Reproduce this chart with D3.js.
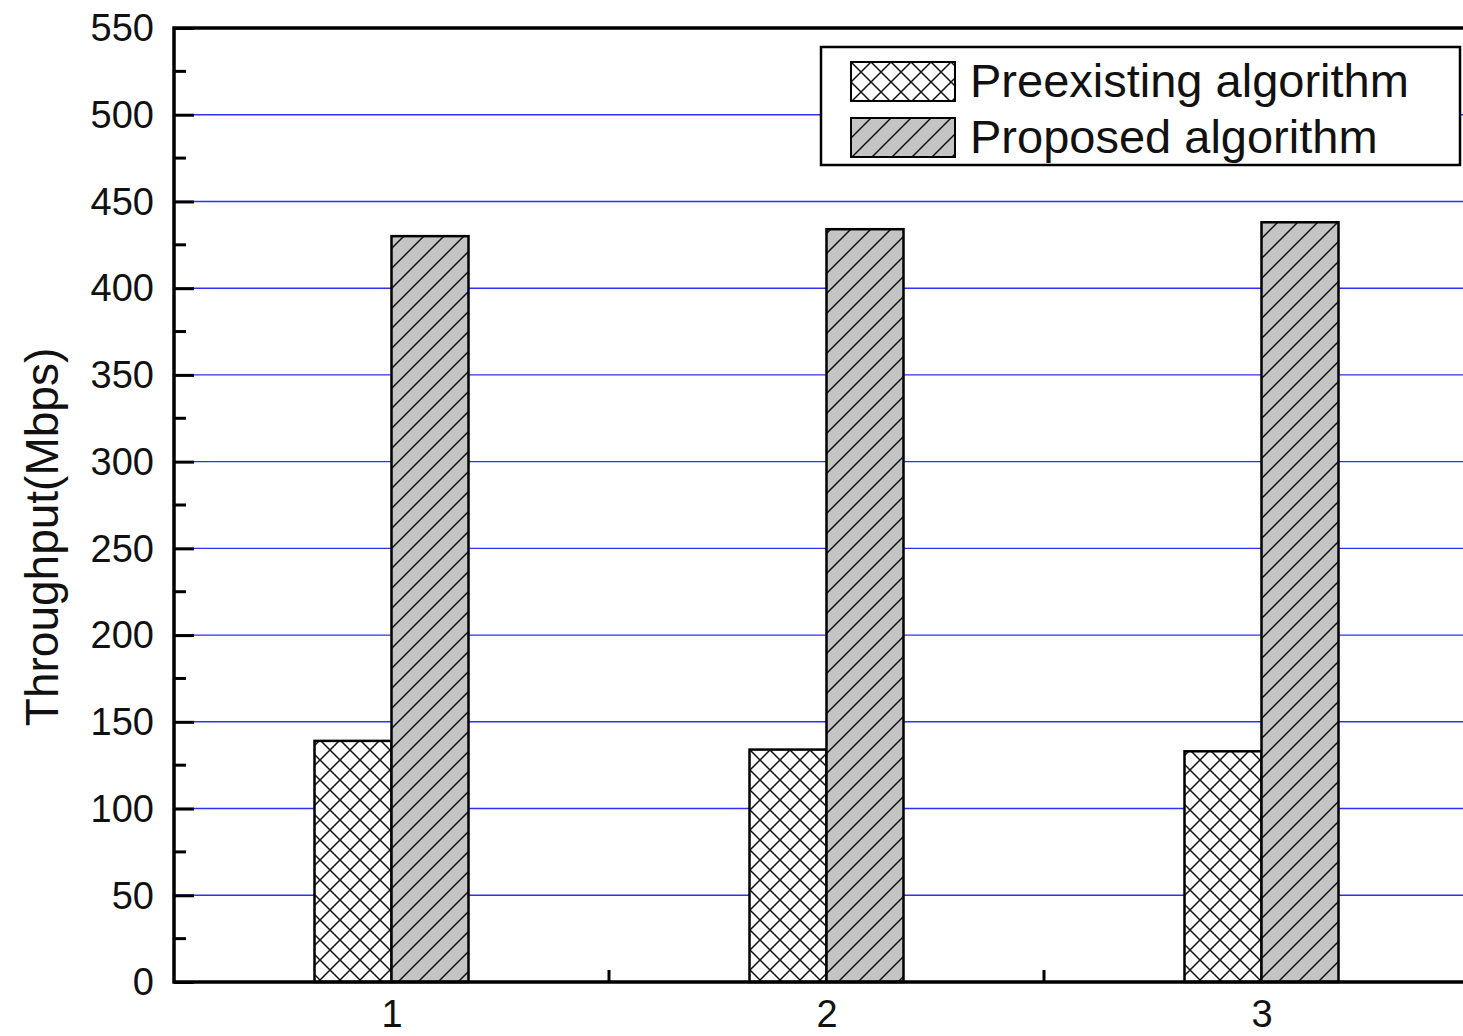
<!DOCTYPE html>
<html>
<head>
<meta charset="utf-8">
<script src="https://cdn.jsdelivr.net/npm/d3@7"></script>
<style>
  body { margin: 0; background: #fff; }
  svg { display: block; font-family: "Liberation Sans", Arial, sans-serif; }
</style>
</head>
<body>
<div id="chart"></div>
<script>
var categories = [1, 2, 3];
var seriesNames = ['Preexisting algorithm', 'Proposed algorithm'];
var preexisting = [139, 134, 133];
var proposed = [430, 434, 438];
var yTicks = [0, 50, 100, 150, 200, 250, 300, 350, 400, 450, 500, 550];

var W = 1463, H = 1036;
var plotLeft = 174, plotTop = 28, plotBottom = 982;
var catStep = 435;

var svg = d3.select('#chart').append('svg')
  .attr('width', W)
  .attr('height', H);

var defs = svg.append('defs');

// crosshatch for the preexisting bars
var cs = 20;
var cross = defs.append('pattern')
  .attr('id', 'cross')
  .attr('patternUnits', 'userSpaceOnUse')
  .attr('width', cs).attr('height', cs);
cross.append('rect').attr('width', cs).attr('height', cs).style('fill', '#fff');
cross.append('path')
  .attr('d', 'M0,0L' + cs + ',' + cs + 'M0,' + cs + 'L' + cs + ',0')
  .style('stroke', '#111').style('stroke-width', 1.5);

// diagonal for the proposed bars
var ds = 20;
var diag = defs.append('pattern')
  .attr('id', 'diag')
  .attr('patternUnits', 'userSpaceOnUse')
  .attr('width', ds).attr('height', ds);
diag.append('rect').attr('width', ds).attr('height', ds).style('fill', '#c4c4c4');
diag.append('path')
  .attr('d', 'M0,' + ds + 'L' + ds + ',0M-4,4L4,-4M' + (ds - 4) + ',' + (ds + 4) + 'L' + (ds + 4) + ',' + (ds - 4))
  .style('stroke', '#111').style('stroke-width', 1.5);

var x = d3.scaleLinear()
  .domain([0.5, 3.5])
  .range([plotLeft, plotLeft + 3 * catStep]);

var y = d3.scaleLinear()
  .domain([0, 550])
  .range([plotBottom, plotTop]);

var offset = d3.scaleBand()
  .domain(seriesNames)
  .range([-77, 77])
  .padding(0);

var fills = {'Preexisting algorithm': 'url(#cross)', 'Proposed algorithm': 'url(#diag)'};

// grid lines
svg.append('g')
  .selectAll('line')
  .data(yTicks.filter(function(d) { return d > 0 && d < 550; }))
  .enter().append('line')
  .attr('x1', plotLeft).attr('x2', W)
  .attr('y1', function(d) { return y(d); })
  .attr('y2', function(d) { return y(d); })
  .style('stroke', '#3030f0')
  .style('stroke-width', 1.4);

// bars
var rows = categories.map(function(c, i) {
  return [
    {cat: c, name: seriesNames[0], value: preexisting[i]},
    {cat: c, name: seriesNames[1], value: proposed[i]}
  ];
});

svg.append('g')
  .selectAll('g')
  .data(rows)
  .enter().append('g')
  .selectAll('rect')
  .data(function(d) { return d; })
  .enter().append('rect')
  .attr('x', function(d) { return x(d.cat) + offset(d.name); })
  .attr('y', function(d) { return y(d.value); })
  .attr('width', offset.bandwidth())
  .attr('height', function(d) { return y(0) - y(d.value); })
  .style('fill', function(d) { return fills[d.name]; })
  .style('stroke', '#000')
  .style('stroke-width', 2.5);

// left axis with inward ticks
var yAxis = svg.append('g')
  .attr('transform', 'translate(' + plotLeft + ',0)')
  .call(d3.axisRight(y).tickValues(yTicks).tickSize(20).tickFormat(''));
yAxis.select('.domain').remove();
yAxis.selectAll('line').style('stroke', '#000').style('stroke-width', 3);

var minor = d3.range(25, 550, 50);
svg.append('g')
  .selectAll('line')
  .data(minor)
  .enter().append('line')
  .attr('x1', plotLeft).attr('x2', plotLeft + 12)
  .attr('y1', function(d) { return y(d); })
  .attr('y2', function(d) { return y(d); })
  .style('stroke', '#000')
  .style('stroke-width', 3);

svg.append('g')
  .selectAll('text')
  .data(yTicks)
  .enter().append('text')
  .attr('x', plotLeft - 20)
  .attr('y', function(d) { return y(d); })
  .attr('dy', '0.35em')
  .style('text-anchor', 'end')
  .style('font-size', '38px')
  .style('fill', '#111')
  .text(function(d) { return d; });

// bottom axis
var xAxis = svg.append('g')
  .attr('transform', 'translate(0,' + plotBottom + ')')
  .call(d3.axisBottom(x).tickValues(categories).tickSize(0).tickPadding(18).tickFormat(d3.format('d')));
xAxis.select('.domain').remove();
xAxis.selectAll('text')
  .style('font-size', '38px')
  .style('font-family', '"Liberation Sans", Arial, sans-serif')
  .style('fill', '#111');

svg.append('g')
  .selectAll('line')
  .data([1.5, 2.5])
  .enter().append('line')
  .attr('x1', function(d) { return x(d); })
  .attr('x2', function(d) { return x(d); })
  .attr('y1', plotBottom).attr('y2', plotBottom - 12)
  .style('stroke', '#000')
  .style('stroke-width', 3);

// frame
svg.append('path')
  .attr('d', 'M' + W + ',' + plotTop + 'H' + plotLeft + 'V' + plotBottom + 'H' + W)
  .style('fill', 'none')
  .style('stroke', '#000')
  .style('stroke-width', 3.5);

// y title
svg.append('text')
  .attr('transform', 'translate(58,' + ((plotTop + plotBottom) / 2 + 32) + ') rotate(-90)')
  .style('text-anchor', 'middle')
  .style('font-size', '46px')
  .style('fill', '#111')
  .text('Throughput(Mbps)');

// legend
var legend = svg.append('g');
legend.append('rect')
  .attr('x', 821).attr('y', 47)
  .attr('width', 639).attr('height', 118)
  .style('fill', '#fff')
  .style('stroke', '#000')
  .style('stroke-width', 2.5);

var item = legend.selectAll('g.item')
  .data(seriesNames)
  .enter().append('g')
  .attr('class', 'item')
  .attr('transform', function(d, i) { return 'translate(851,' + (62 + i * 56) + ')'; });

item.append('rect')
  .attr('width', 104).attr('height', 39)
  .style('fill', function(d) { return fills[d]; })
  .style('stroke', '#000')
  .style('stroke-width', 2);

item.append('text')
  .attr('x', 119)
  .attr('y', 35)
  .style('font-size', '47px')
  .style('fill', '#111')
  .text(function(d) { return d; });
</script>
</body>
</html>
